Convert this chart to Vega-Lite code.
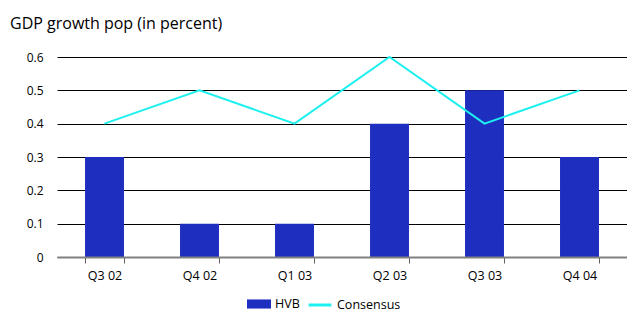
{
  "$schema": "https://vega.github.io/schema/vega-lite/v6.json",
  "width": 570,
  "height": 200,
  "autosize": {"type": "none"},
  "padding": {"left": 57, "top": 57, "right": 0, "bottom": 54},
  "background": "white",
  "title": {"text": "GDP growth pop (in percent)", "anchor": "start", "frame": "group", "dx": -47, "offset": 19, "font": "Open Sans", "fontSize": 16, "fontWeight": "normal", "color": "#000000"},
  "config": {
    "view": {"stroke": null},
    "font": "Open Sans",
    "axis": {"labelFont": "Open Sans", "labelFontSize": 12, "labelColor": "#000000", "labelFontWeight": 500},
    "axisX": {"ticks": true, "tickColor": "#606060", "tickSize": 6, "tickWidth": 1, "tickOpacity": 1},
    "legend": {"labelFont": "Open Sans", "labelFontSize": 12.5, "labelColor": "#000000"}
  },
  "data": {"values": [
    {"q": "Q3 02", "HVB": 0.3, "Consensus": 0.4},
    {"q": "Q4 02", "HVB": 0.1, "Consensus": 0.5},
    {"q": "Q1 03", "HVB": 0.1, "Consensus": 0.4},
    {"q": "Q2 03", "HVB": 0.4, "Consensus": 0.6},
    {"q": "Q3 03", "HVB": 0.5, "Consensus": 0.4},
    {"q": "Q4 04", "HVB": 0.3, "Consensus": 0.5}
  ]},
  "encoding": {
    "x": {"field": "q", "type": "nominal", "sort": null, "title": null,
      "scale": {"paddingInner": 0.59, "paddingOuter": 0.295},
      "axis": {"labelAngle": 0, "ticks": true, "tickBand": "extent", "tickExtra": true, "domainColor": "#808080", "domainWidth": 2, "labelPadding": 6, "grid": false, "zindex": 2, "labelFontSize": 12.5}}
  },
  "layer": [
    {
      "mark": {"type": "bar"},
      "encoding": {
        "y": {"field": "HVB", "type": "quantitative", "title": null,
          "scale": {"domain": [0, 0.6]},
          "axis": {"values": [0, 0.1, 0.2, 0.3, 0.4, 0.5, 0.6], "labelExpr": "datum.value == 0 ? '0' : format(datum.value, '.1f')", "domain": false, "ticks": false, "grid": true, "gridColor": "#000000", "gridOpacity": 1, "gridWidth": 1, "labelPadding": 14}},
        "fill": {"datum": "HVB", "type": "nominal", "scale": {"domain": ["HVB"], "range": ["#1E2EBE"]},
          "legend": {"title": null, "orient": "none", "legendX": 190, "legendY": 235, "symbolType": "M-1,-0.38L1,-0.38L1,0.38L-1,0.38Z", "symbolSize": 576, "symbolStrokeWidth": 0, "labelOffset": 4}}
      }
    },
    {
      "mark": {"type": "line", "strokeWidth": 2},
      "encoding": {
        "y": {"field": "Consensus", "type": "quantitative",
          "axis": {"values": [0, 0.1, 0.2, 0.3, 0.4, 0.5, 0.6], "labelExpr": "datum.value == 0 ? '0' : format(datum.value, '.1f')", "domain": false, "ticks": false, "grid": true, "gridColor": "#000000", "gridOpacity": 1, "gridWidth": 1, "labelPadding": 14}},
        "stroke": {"datum": "Consensus", "type": "nominal", "scale": {"domain": ["Consensus"], "range": ["#1EF0F0"]},
          "legend": {"title": null, "orient": "none", "legendX": 250, "legendY": 235, "symbolType": "stroke", "symbolStrokeWidth": 3, "symbolSize": 520, "labelOffset": 4}}
      }
    }
  ]
}
